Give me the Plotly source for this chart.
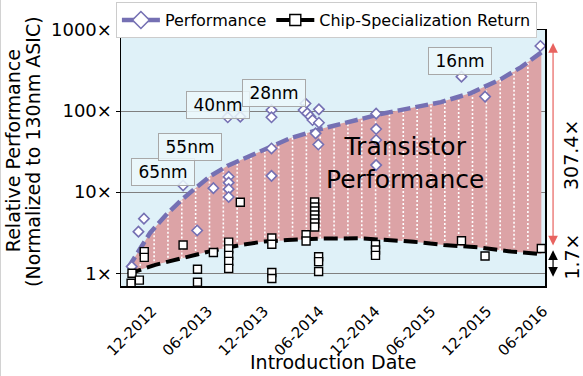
import numpy as np
import pandas as pd
import plotly.graph_objects as go

# ---------------- data ----------------
PERF_DATES = ["2012-09-25", "2012-10-17", "2012-11-04", "2013-03-12", "2013-04-27",
              "2013-06-19", "2013-08-08", "2013-08-08", "2013-08-08", "2013-08-08",
              "2013-08-05", "2013-09-15", "2013-12-26", "2013-12-26", "2013-12-26",
              "2013-12-26", "2014-04-16", "2014-04-10", "2014-04-22", "2014-05-02",
              "2014-05-09", "2014-05-30", "2014-05-30", "2014-05-19", "2014-05-28",
              "2014-12-03", "2014-12-03", "2014-12-03", "2014-12-03", "2015-09-08",
              "2015-11-24", "2016-05-23"]
PERF_VALUES = [1.21, 3.26, 4.71, 12.1, 3.37,
               11.2, 15.5, 13.1, 10.9, 8.73,
               83.9, 85.3, 103, 83.9, 34.6,
               15.9, 124, 103, 94, 85.3,
               77.6, 105, 71.9, 53.2, 38.7,
               92.9, 60.1, 44, 21.6, 266,
               151, 635]

CSR_DATES = ["2012-09-26", "2012-09-23", "2012-10-20", "2012-11-05", "2012-11-05",
             "2013-03-12", "2013-04-28", "2013-04-28", "2013-06-19",
             "2013-08-08", "2013-08-08", "2013-08-08", "2013-08-08", "2013-08-08",
             "2013-09-15",
             "2013-12-27", "2013-12-27", "2013-12-27", "2013-12-27",
             "2014-04-18", "2014-04-18",
             "2014-05-16", "2014-05-16", "2014-05-16", "2014-05-16", "2014-05-16",
             "2014-05-16", "2014-05-16",
             "2014-05-29", "2014-05-29", "2014-05-29",
             "2014-12-01", "2014-12-01", "2014-12-01",
             "2015-09-08", "2015-11-24", "2016-05-26"]
CSR_VALUES = [1.0, 0.752, 0.822, 1.85, 1.57,
              2.23, 1.12, 0.774, 1.80,
              2.42, 2.00, 1.66, 1.40, 1.15,
              7.50,
              2.72, 2.28, 1.02, 0.863,
              2.99, 2.50,
              7.57, 6.57, 5.86, 5.23, 4.67,
              4.17, 3.72,
              1.60, 1.39, 1.05,
              2.26, 1.94, 1.66,
              2.52, 1.63, 2.02]

PERF_TREND_DATES = ["2012-09-13", "2012-10-23", "2012-11-24", "2013-01-12", "2013-03-03",
                    "2013-04-21", "2013-06-09", "2013-08-03", "2013-10-08", "2013-12-16",
                    "2014-02-26", "2014-06-04", "2014-09-10", "2014-12-18", "2015-03-26",
                    "2015-07-03", "2015-10-09", "2016-01-15", "2016-03-21", "2016-05-26"]
PERF_TREND_VALUES = [1.16, 2.05, 3.14, 5.09, 7.78,
                     11.2, 15.8, 21.0, 27.1, 36.0,
                     46.5, 60.0, 75.3, 91.9, 109,
                     129, 167, 248, 349, 530]

CSR_TREND_DATES = ["2012-09-13", "2012-10-06", "2012-12-11", "2013-03-10", "2013-06-03",
                   "2013-09-15", "2013-11-26", "2014-02-16", "2014-06-04", "2014-10-13",
                   "2015-01-10", "2015-04-05", "2015-07-12", "2015-11-01", "2016-02-17",
                   "2016-05-26"]
CSR_TREND_VALUES = [0.967, 1.05, 1.27, 1.53, 1.85,
                    2.23, 2.45, 2.57, 2.68, 2.70,
                    2.57, 2.45, 2.23, 2.09, 1.85,
                    1.73]

NODE_LABELS = ["65nm", "55nm", "40nm", "28nm", "16nm"]
NODE_LABEL_DATES = ["2013-01-06", "2013-04-04", "2013-07-05", "2014-01-04", "2015-09-02"]
NODE_LABEL_VALUES = [17.7, 36.1, 119, 167, 418]

X_TICK_DATES = ["2012-12-01", "2013-06-01", "2013-12-01", "2014-06-01",
                "2014-12-01", "2015-06-01", "2015-12-01", "2016-06-01"]
X_TICK_LABELS = ["12-2012", "06-2013", "12-2013", "06-2014",
                 "12-2014", "06-2015", "12-2015", "06-2016"]
Y_TICK_VALUES = [1, 10, 100, 1000]
Y_TICK_LABELS = ["1×", "10×", "100×", "1000×"]

PERF_GAIN = 307.4
CSR_GAIN = 1.7

# ---------------- style ----------------
FONT = "DejaVu Sans"
PURPLE = "#7570b3"
FILL = "#dca3a6"
PLOT_BG = "#dff1f8"
RED = "#e8635f"

# hatch (decorative dotted white lines inside the band)
HATCH_START = "2012-10-23"
HATCH_STEP_DAYS = 45.25
HATCH_COUNT = 29


def to_days(dates):
    return (pd.to_datetime(pd.Series(dates)) - pd.Timestamp("1970-01-01")).dt.total_seconds().values / 86400.0


perf_d = to_days(PERF_TREND_DATES)
perf_l = np.log10(PERF_TREND_VALUES)
csr_d = to_days(CSR_TREND_DATES)
csr_l = np.log10(CSR_TREND_VALUES)

hatch_days = to_days([HATCH_START])[0] + np.arange(HATCH_COUNT) * HATCH_STEP_DAYS
hx, hy = [], []
for d in hatch_days:
    t = pd.Timestamp("1970-01-01") + pd.Timedelta(days=float(d))
    lo = 10 ** np.interp(d, csr_d, csr_l)
    hi = 10 ** np.interp(d, perf_d, perf_l)
    hx += [t, t, None]
    hy += [lo, hi, None]

fig = go.Figure()

# band fill
fig.add_trace(go.Scatter(
    x=PERF_TREND_DATES + CSR_TREND_DATES[::-1],
    y=PERF_TREND_VALUES + CSR_TREND_VALUES[::-1],
    fill="toself", fillcolor=FILL, mode="lines", line=dict(width=0),
    showlegend=False, hoverinfo="skip"))

# hatch
fig.add_trace(go.Scatter(
    x=hx, y=hy, mode="lines",
    line=dict(color="white", width=1.6, dash="2px,2px"),
    showlegend=False, hoverinfo="skip"))

# trend lines
fig.add_trace(go.Scatter(
    x=PERF_TREND_DATES, y=PERF_TREND_VALUES, mode="lines",
    line=dict(color=PURPLE, width=4.5, dash="13px,5px"), showlegend=False))
fig.add_trace(go.Scatter(
    x=CSR_TREND_DATES, y=CSR_TREND_VALUES, mode="lines",
    line=dict(color="black", width=4, dash="14px,6px"), showlegend=False))

# markers
fig.add_trace(go.Scatter(
    x=PERF_DATES, y=PERF_VALUES, mode="markers",
    marker=dict(symbol="diamond", size=8, color="white",
                line=dict(color=PURPLE, width=1.6)),
    showlegend=False))
fig.add_trace(go.Scatter(
    x=CSR_DATES, y=CSR_VALUES, mode="markers",
    marker=dict(symbol="square", size=8, color="white",
                line=dict(color="black", width=1.4)),
    showlegend=False))

# legend entries
fig.add_trace(go.Scatter(
    x=[None], y=[None], mode="lines+markers", name="Performance",
    line=dict(color=PURPLE, width=4.5),
    marker=dict(symbol="diamond", size=13, color="white", line=dict(color=PURPLE, width=1.6))))
fig.add_trace(go.Scatter(
    x=[None], y=[None], mode="lines+markers", name="Chip-Specialization Return",
    line=dict(color="black", width=4),
    marker=dict(symbol="square", size=11, color="white", line=dict(color="black", width=1.4))))

annotations = []
for lab, d, v in zip(NODE_LABELS, NODE_LABEL_DATES, NODE_LABEL_VALUES):
    annotations.append(dict(
        x=d, y=np.log10(v), xref="x", yref="y", text=lab, showarrow=False,
        xanchor="center", yanchor="middle",
        font=dict(family=FONT, size=17, color="black"),
        bgcolor="rgba(236,248,252,0.85)", bordercolor="#a8a8a8", borderwidth=1,
        borderpad=3, width=56))

annotations.append(dict(
    x="2015-03-06", y=np.log10(22.9), xref="x", yref="y",
    text="Transistor<br>Performance", showarrow=False,
    xanchor="center", yanchor="middle",
    font=dict(family=FONT, size=25, color="black")))


def span_arrow(top, bottom, color):
    # double-headed vertical arrow right of the plot, tail given in y-axis units
    return dict(x=1.019, y=np.log10(top), xref="paper", yref="y",
                ax=0, ay=np.log10(bottom), axref="pixel", ayref="y",
                text="", showarrow=True, arrowhead=2, startarrowhead=2,
                arrowside="end+start", arrowcolor=color, arrowwidth=1.2,
                arrowsize=1.6, startarrowsize=1.6)


def side_text(x, y, text, size, angle=-90):
    return dict(x=x, y=y, xref="paper", yref="paper", text=text, textangle=angle,
                showarrow=False, xanchor="center", yanchor="middle",
                font=dict(family=FONT, size=size, color="black"))


annotations.append(span_arrow(690, 2.11, RED))
annotations.append(span_arrow(0.908, 2.0, "black"))
annotations.append(side_text(1.0615, 0.512, f"{PERF_GAIN:.1f}×", 19))
annotations.append(side_text(1.0638, 0.115, f"{CSR_GAIN:.1f}×", 19))

# axis titles
annotations.append(side_text(-0.2545, 0.527, "Relative Performance", 19))
annotations.append(side_text(-0.2080, 0.527, "(Normalized to 130nm ASIC)", 19))
annotations.append(side_text(0.5, -0.297, "Introduction Date", 19, angle=0))

fig.update_layout(
    width=583, height=376, autosize=False,
    margin=dict(l=121, r=38, t=30, b=90, autoexpand=False),
    paper_bgcolor="white", plot_bgcolor=PLOT_BG,
    font=dict(family=FONT, color="black"),
    showlegend=True,
    legend=dict(orientation="h", x=-0.012, y=1.109, xanchor="left", yanchor="top",
                bgcolor="white", bordercolor="#cccccc", borderwidth=1,
                font=dict(family=FONT, size=16, color="black"),
                itemwidth=38, tracegroupgap=0),
    annotations=annotations,
    shapes=[dict(type="line", xref="paper", yref="paper", x0=-0.2849, x1=-0.2849,
                 y0=-0.352, y1=1.117, line=dict(color="#d0d0d0", width=1.5))],
    xaxis=dict(type="date", range=["2012-08-21", "2016-06-07"], automargin=False,
               tickvals=X_TICK_DATES, ticktext=X_TICK_LABELS, tickangle=-45,
               tickfont=dict(family=FONT, size=15, color="black"),
               showgrid=False, zeroline=False, showline=True, linecolor="black",
               linewidth=1.5, mirror=True, ticks="", ticklabelstandoff=9),
    yaxis=dict(type="log", range=[-0.157, 3.0], automargin=False,
               tickvals=Y_TICK_VALUES, ticktext=Y_TICK_LABELS,
               tickfont=dict(family=FONT, size=18, color="black"),
               showgrid=True, gridcolor="#7f7f7f", gridwidth=1,
               zeroline=False, showline=True, linecolor="black", linewidth=1.5,
               mirror=True, ticks="outside", ticklen=4, tickcolor="black"),
)

# the page body has a default 8px margin; remove it so the figure fills the window
fig.write_html("out.html",
               config={"displayModeBar": False, "staticPlot": True},
               post_script="document.body.style.margin='0';document.body.style.overflow='hidden';")
